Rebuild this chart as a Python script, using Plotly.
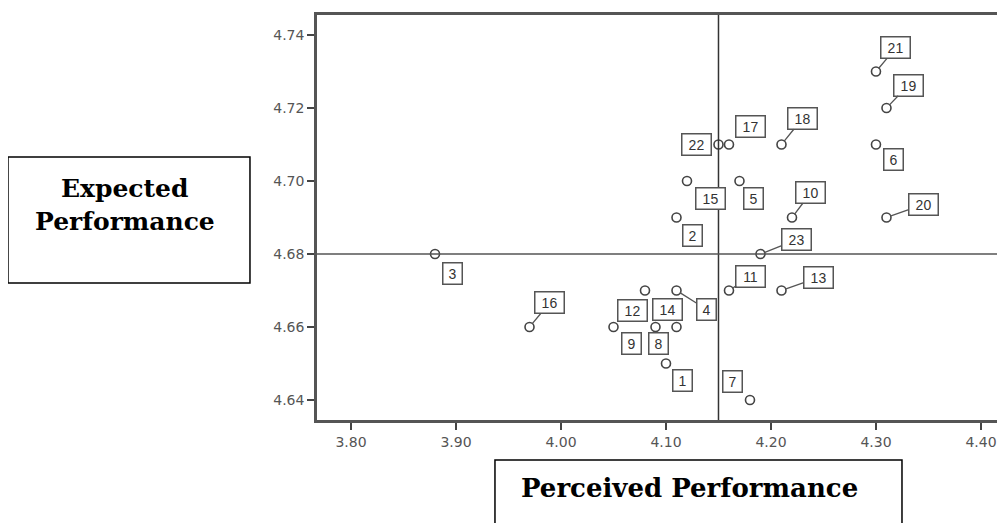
import plotly.graph_objects as go

# ---- data ----
labels = ["1", "2", "3", "4", "5", "6", "7", "8", "9", "10", "11", "12",
          "13", "14", "15", "16", "17", "18", "19", "20", "21", "22", "23"]
perceived = [4.10, 4.11, 3.88, 4.11, 4.17, 4.30, 4.18, 4.09, 4.05, 4.22, 4.16, 4.08,
             4.21, 4.11, 4.12, 3.97, 4.16, 4.21, 4.31, 4.31, 4.30, 4.15, 4.19]
expected = [4.65, 4.69, 4.68, 4.67, 4.70, 4.71, 4.64, 4.66, 4.66, 4.69, 4.67, 4.67,
            4.67, 4.66, 4.70, 4.66, 4.71, 4.71, 4.72, 4.69, 4.73, 4.71, 4.68]
x_ticks = [3.80, 3.90, 4.00, 4.10, 4.20, 4.30, 4.40]
y_ticks = [4.64, 4.66, 4.68, 4.70, 4.72, 4.74]
x_ref = 4.15
y_ref = 4.68

# ---- label placement (pixel offsets, leader line flag) ----
offsets = {
    "1": (16, 17, False), "2": (16, 18, False), "3": (17, 20, False),
    "4": (30, 19, True), "5": (14, 17, False), "6": (18, 15, False),
    "7": (-17, -18, False), "8": (3, 17, False), "9": (18, 17, False),
    "10": (19, -25, True), "11": (22, -14, True), "12": (-13, 20, False),
    "13": (37, -13, True), "14": (-9, -17, False), "15": (23, 17, False),
    "16": (20, -24, True), "17": (22, -18, False), "18": (21, -26, True),
    "19": (22, -23, True), "20": (37, -13, True), "21": (20, -24, True),
    "22": (-22, 0, False), "23": (36, -14, True),
}

fig = go.Figure()
fig.add_trace(go.Scatter(
    x=perceived, y=expected, mode="markers",
    marker=dict(symbol="circle-open", size=9, color="#444",
                line=dict(width=1.6, color="#444")),
    showlegend=False, hoverinfo="skip", cliponaxis=False,
))

annotations = []
for lab, xv, yv in zip(labels, perceived, expected):
    ax, ay, lead = offsets[lab]
    annotations.append(dict(
        x=xv, y=yv, xref="x", yref="y", text=lab,
        showarrow=True, ax=ax, ay=ay, arrowhead=0, arrowwidth=1.3,
        arrowcolor="#555" if lead else "rgba(0,0,0,0)", standoff=4,
        font=dict(family="Liberation Sans", size=14, color="#333"),
        bordercolor="#555", borderwidth=1.5, borderpad=2, bgcolor="white",
        width=24 if len(lab) == 2 else 14, align="center",
    ))

# axis title boxes (paper coords)
annotations += [
    dict(x=-0.2759, y=0.5728, xref="paper", yref="paper", text="<b>Expected</b>",
         showarrow=False, xanchor="center", yanchor="middle",
         font=dict(family="DejaVu Serif", size=25, color="black")),
    dict(x=-0.2759, y=0.4889, xref="paper", yref="paper", text="<b>Performance</b>",
         showarrow=False, xanchor="center", yanchor="middle",
         font=dict(family="DejaVu Serif", size=25, color="black")),
    dict(x=0.5345, y=-0.1679, xref="paper", yref="paper", text="<b>Perceived Performance</b>",
         showarrow=False, xanchor="center", yanchor="middle",
         font=dict(family="DejaVu Serif", size=26, color="black")),
]

shapes = [
    dict(type="line", xref="x", yref="y domain", x0=x_ref, x1=x_ref, y0=0, y1=1,
         line=dict(color="#333", width=1.5)),
    dict(type="line", xref="x domain", yref="y", x0=0, x1=1, y0=y_ref, y1=y_ref,
         line=dict(color="#555", width=1.5)),
    dict(type="rect", xref="paper", yref="paper", x0=-0.4440, x1=-0.0963,
         y0=0.3383, y1=0.6494, line=dict(color="black", width=1.5), layer="above"),
    dict(type="rect", xref="paper", yref="paper", x0=0.2557, x1=0.8405,
         y0=-0.2716, y1=-0.0988, line=dict(color="black", width=1.5), layer="above"),
]

fig.update_layout(
    width=1005, height=523,
    margin=dict(l=309, r=0, t=7, b=111),
    paper_bgcolor="white", plot_bgcolor="white",
    annotations=annotations, shapes=shapes,
    xaxis=dict(range=[3.7676, 4.4305], tickvals=x_ticks, tickformat=".2f",
               showgrid=False, zeroline=False, showline=True, linecolor="#555",
               linewidth=2.5, mirror=True, ticks="outside", ticklen=7, tickwidth=2,
               tickcolor="#444",
               tickfont=dict(family="DejaVu Sans", size=14, color="#555")),
    yaxis=dict(range=[4.6345, 4.7455], tickvals=y_ticks, tickformat=".2f",
               showgrid=False, zeroline=False, showline=True, linecolor="#555",
               linewidth=2.5, ticks="outside", ticklen=7, tickwidth=2,
               tickcolor="#444",
               tickfont=dict(family="DejaVu Sans", size=14, color="#555")),
)

fig.write_html("out.html")
